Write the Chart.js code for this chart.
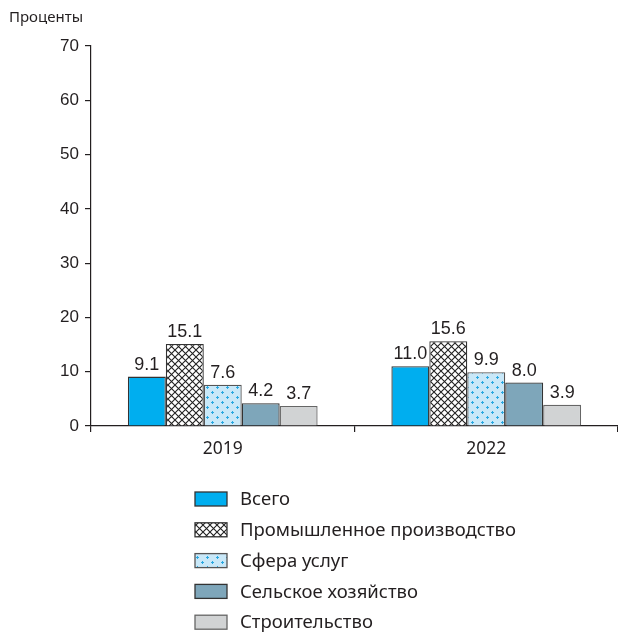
<!DOCTYPE html>
<html>
<head>
<meta charset="utf-8">
<script src="https://cdn.jsdelivr.net/npm/chart.js@4.4.1/dist/chart.umd.min.js"></script>
<style>
  html, body { margin: 0; padding: 0; background: #fff; }
  #wrap { width: 618px; height: 642px; position: relative; }
</style>
</head>
<body>
<div id="wrap"><canvas id="c" width="618" height="642"></canvas></div>
<script>
const years = ["2019", "2022"];
const seriesNames = ["Всего", "Промышленное производство", "Сфера услуг", "Сельское хозяйство", "Строительство"];
const total = [9.1, 11.0];
const industry = [15.1, 15.6];
const services = [7.6, 9.9];
const agriculture = [4.2, 8.0];
const construction = [3.7, 3.9];
const yTicks = [0, 10, 20, 30, 40, 50, 60, 70];
const yTitle = "Проценты";

function hatchPattern() {
  const t = document.createElement("canvas");
  t.width = 7; t.height = 7;
  const g = t.getContext("2d");
  g.fillStyle = "#fff";
  g.fillRect(0, 0, 7, 7);
  g.strokeStyle = "#222";
  g.lineWidth = 1.1;
  g.beginPath();
  g.moveTo(-1, -1); g.lineTo(8, 8);
  g.moveTo(-1, 8); g.lineTo(8, -1);
  g.stroke();
  return g.createPattern(t, "repeat");
}

function dotPattern() {
  const t = document.createElement("canvas");
  t.width = 10; t.height = 10;
  const g = t.getContext("2d");
  g.fillStyle = "#c9e8f8";
  g.fillRect(0, 0, 10, 10);
  g.fillStyle = "#2aa8e0";
  const plus = (x, y) => { g.fillRect(x - 1, y, 3, 1); g.fillRect(x, y - 1, 1, 3); };
  plus(2, 2);
  plus(7, 7);
  return g.createPattern(t, "repeat");
}

const fills = ["#00aeef", hatchPattern(), dotPattern(), "#7ea6ba", "#d1d3d4"];
const borders = ["#333", "#333", "#555", "#333", "#666"];
const values = [total, industry, services, agriculture, construction];
const textFont = "'Noto Sans', 'Open Sans', sans-serif";
const numFont = "'Liberation Sans Narrow', 'Liberation Sans', Arial";

const labelsPlugin = {
  id: "vals",
  afterDatasetsDraw(chart) {
    const ctx = chart.ctx;
    ctx.save();
    ctx.font = "18px " + numFont;
    ctx.fillStyle = "#231f20";
    ctx.textAlign = "center";
    ctx.textBaseline = "alphabetic";
    chart.data.datasets.forEach((ds, i) => {
      chart.getDatasetMeta(i).data.forEach((bar, j) => {
        ctx.fillText(ds.data[j].toFixed(1), bar.x, bar.y - 7);
      });
    });
    ctx.restore();
  },
  afterDraw(chart) {
    const ctx = chart.ctx;
    ctx.save();
    ctx.fillStyle = "#231f20";
    ctx.font = "15px " + textFont;
    ctx.textBaseline = "middle";
    ctx.textAlign = "left";
    ctx.fillText(yTitle, 9, 18);
    // legend
    chart.data.datasets.forEach((ds, i) => {
      const y = 499 + i * 30.8;
      ctx.fillStyle = ds.backgroundColor;
      ctx.fillRect(195, y - 7, 32, 14);
      ctx.strokeStyle = ds.borderColor;
      ctx.lineWidth = 1.3;
      ctx.strokeRect(195, y - 7, 32, 14);
      ctx.fillStyle = "#231f20";
      ctx.font = "18.5px " + textFont;
      ctx.fillText(ds.label, 240, y + 1);
    });
    ctx.restore();
  }
};

new Chart(document.getElementById("c"), {
  type: "bar",
  data: {
    labels: years,
    datasets: seriesNames.map((name, i) => ({
      label: name,
      data: values[i],
      backgroundColor: fills[i],
      borderColor: borders[i],
      borderWidth: 1.3,
      categoryPercentage: 0.72,
      barPercentage: 1.0,
    })),
  },
  options: {
    responsive: false,
    animation: false,
    devicePixelRatio: 1,
    layout: { padding: { top: 46, right: 0, left: 0, bottom: 0 } },
    plugins: { legend: { display: false }, tooltip: { enabled: false } },
    scales: {
      x: {
        offset: true,
        grid: { offset: true, drawOnChartArea: false, drawTicks: true, tickLength: 6, color: "#231f20", lineWidth: 1.2 },
        border: { color: "#231f20", width: 1.2 },
        ticks: { color: "#231f20", padding: 7, font: { family: textFont, size: 17.5 } },
        afterFit(s) { s.height = 216; },
      },
      y: {
        min: 0,
        max: 70,
        afterBuildTicks(s) { s.ticks = yTicks.map(v => ({ value: v })); },
        grid: { drawOnChartArea: false, drawTicks: true, tickLength: 6, color: "#231f20", lineWidth: 1.2 },
        border: { color: "#231f20", width: 1.2 },
        ticks: { color: "#231f20", padding: 6, font: { family: numFont, size: 17 } },
        afterFit(s) { s.width = 91; },
      },
    },
  },
  plugins: [labelsPlugin],
});
</script>
</body>
</html>
